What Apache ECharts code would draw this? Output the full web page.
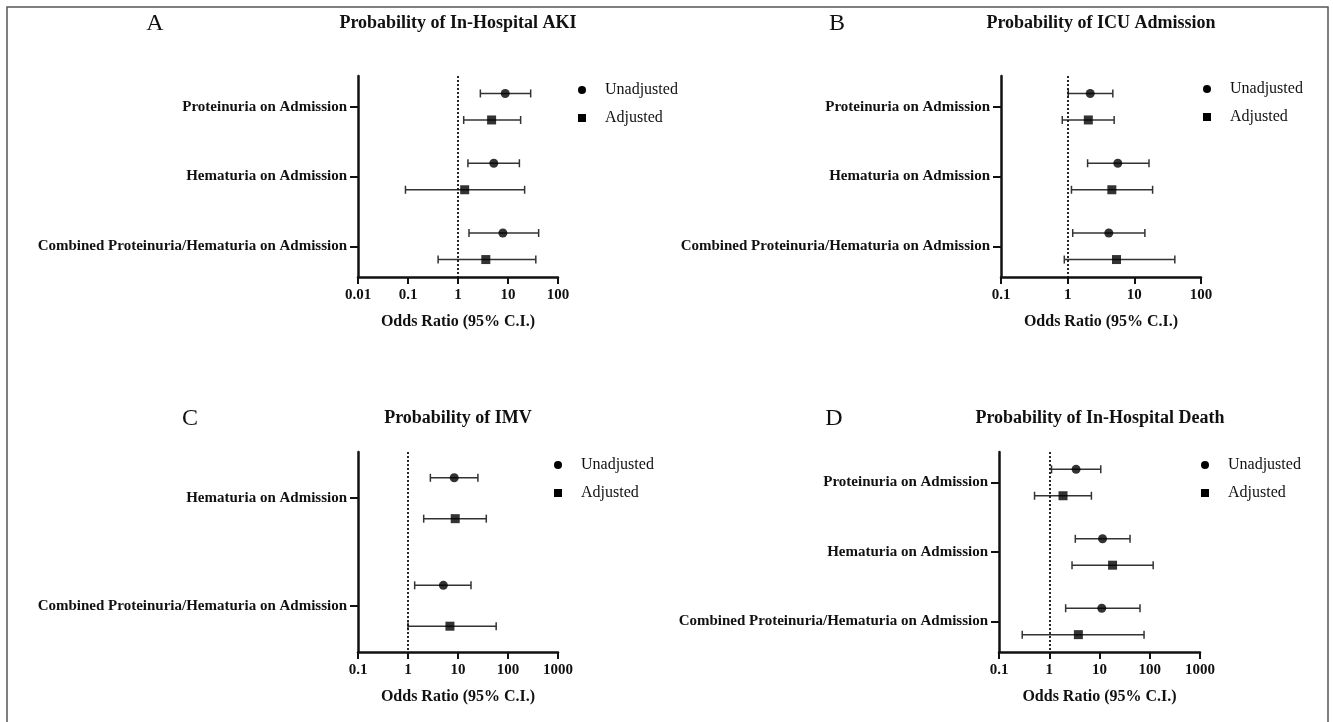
<!DOCTYPE html>
<html>
<head>
<meta charset="utf-8">
<script src="https://cdn.jsdelivr.net/npm/echarts@6/dist/echarts.min.js"></script>
<style>
html,body{margin:0;padding:0;background:#fff;}
#chart{width:1333px;height:722px;}
</style>
</head>
<body>
<div id="chart"></div>
<script>
// ---------- data ----------
const rowsAB = ['Proteinuria on Admission', 'Hematuria on Admission', 'Combined Proteinuria/Hematuria on Admission'];
const rowsC = ['Hematuria on Admission', 'Combined Proteinuria/Hematuria on Admission'];
const rowsD = ['Proteinuria on Admission', 'Hematuria on Admission', 'Combined Proteinuria/Hematuria on Admission'];

const ticksA = [0.01, 0.1, 1, 10, 100];
const ticksB = [0.1, 1, 10, 100];
const ticksC = [0.1, 1, 10, 100, 1000];
const ticksD = [0.1, 1, 10, 100, 1000];

// Panel A: Probability of In-Hospital AKI
const aUnadjOR = [8.8, 5.2, 7.9];
const aUnadjLo = [2.8, 1.58, 1.66];
const aUnadjHi = [28.4, 16.9, 41];
const aAdjOR = [4.7, 1.36, 3.6];
const aAdjLo = [1.3, 0.089, 0.4];
const aAdjHi = [17.9, 21.5, 36];

// Panel B: Probability of ICU Admission
const bUnadjOR = [2.18, 5.65, 4.14];
const bUnadjLo = [1.02, 1.99, 1.19];
const bUnadjHi = [4.76, 16.6, 14.4];
const bAdjOR = [2.04, 4.6, 5.4];
const bAdjLo = [0.83, 1.14, 0.89];
const bAdjHi = [4.98, 18.8, 40.5];

// Panel C: Probability of IMV
const cUnadjOR = [8.4, 5.1];
const cUnadjLo = [2.8, 1.36];
const cUnadjHi = [25, 18.2];
const cAdjOR = [8.8, 6.9];
const cAdjLo = [2.06, 1.0];
const cAdjHi = [36.8, 58];

// Panel D: Probability of In-Hospital Death
const dUnadjOR = [3.42, 11.5, 11.1];
const dUnadjLo = [1.11, 3.3, 2.12];
const dUnadjHi = [10.6, 40.5, 64];
const dAdjOR = [1.88, 18.2, 3.8];
const dAdjLo = [0.51, 2.84, 0.29];
const dAdjHi = [6.9, 117, 77];

const seriesNames = ['Unadjusted', 'Adjusted'];
const panelLetters = ['A', 'B', 'C', 'D'];
const panelTitles = ['Probability of In-Hospital AKI', 'Probability of ICU Admission', 'Probability of IMV', 'Probability of In-Hospital Death'];
const axisTitle = 'Odds Ratio (95% C.I.)';

// ---------- layout / style ----------
const FONT = "'Liberation Serif', 'Times New Roman', serif";
const UNADJ_OFF = -0.19, ADJ_OFF = 0.19;

const panels = [
  {rows: rowsAB, ticks: ticksA, grid: {left: 358, top: 76, width: 200, height: 201}, pad: 0.44,
   u: [aUnadjOR, aUnadjLo, aUnadjHi], a: [aAdjOR, aAdjLo, aAdjHi],
   letter: [155, 24], title: [458, 23], legend: [573, 76]},
  {rows: rowsAB, ticks: ticksB, grid: {left: 1001, top: 76, width: 200, height: 201}, pad: 0.44,
   u: [bUnadjOR, bUnadjLo, bUnadjHi], a: [bAdjOR, bAdjLo, bAdjHi],
   letter: [837, 24], title: [1101, 23], legend: [1198, 75]},
  {rows: rowsC, ticks: ticksC, grid: {left: 358, top: 452, width: 200, height: 200}, pad: 0.43,
   u: [cUnadjOR, cUnadjLo, cUnadjHi], a: [cAdjOR, cAdjLo, cAdjHi],
   letter: [190, 419], title: [458, 418], legend: [549, 451]},
  {rows: rowsD, ticks: ticksD, grid: {left: 999, top: 452, width: 201, height: 200}, pad: 0.44,
   u: [dUnadjOR, dUnadjLo, dUnadjHi], a: [dAdjOR, dAdjLo, dAdjHi],
   letter: [834, 419], title: [1100, 418], legend: [1196, 451]}
];

function errRender(params, api) {
  const y = api.value(2);
  const p1 = api.coord([api.value(0), y]);
  const p2 = api.coord([api.value(1), y]);
  const h = 4;
  const st = {stroke: '#333', lineWidth: 1.5};
  return {
    type: 'group',
    children: [
      {type: 'line', shape: {x1: p1[0], y1: p1[1], x2: p2[0], y2: p2[1]}, style: st},
      {type: 'line', shape: {x1: p1[0], y1: p1[1] - h, x2: p1[0], y2: p1[1] + h}, style: st},
      {type: 'line', shape: {x1: p2[0], y1: p2[1] - h, x2: p2[0], y2: p2[1] + h}, style: st}
    ]
  };
}

const grids = [], xAxes = [], yAxes = [], series = [], legends = [], graphics = [];

graphics.push({type: 'rect', shape: {x: 7, y: 7, width: 1321, height: 740},
  style: {fill: 'none', stroke: '#555', lineWidth: 1.5}, silent: true});

panels.forEach((p, i) => {
  grids.push(p.grid);
  xAxes.push({
    type: 'log', logBase: 10, gridIndex: i,
    min: p.ticks[0], max: p.ticks[p.ticks.length - 1],
    name: axisTitle, nameLocation: 'middle', nameGap: 37,
    nameTextStyle: {fontFamily: FONT, fontWeight: 'bold', fontSize: 16, color: '#111'},
    axisLine: {onZero: false, lineStyle: {color: '#111', width: 2.5}},
    axisTick: {show: true, length: 7, inside: false, lineStyle: {color: '#111', width: 2}},
    axisLabel: {fontFamily: FONT, fontWeight: 'bold', fontSize: 15, color: '#111', margin: 11,
      formatter: v => String(+Number(v).toPrecision(4))},
    splitLine: {show: false}, minorTick: {show: false}
  });
  const n = p.rows.length;
  const idx = p.rows.map((r, k) => k);
  yAxes.push({
    type: 'value', gridIndex: i, inverse: true,
    min: -p.pad, max: n - 1 + p.pad,
    axisLine: {show: true, onZero: false, lineStyle: {color: '#111', width: 2.5}},
    axisTick: {show: true, length: 8, customValues: idx, lineStyle: {color: '#111', width: 2}},
    axisLabel: {show: true, customValues: idx, margin: 11, fontFamily: FONT, fontWeight: 'bold', fontSize: 15, color: '#111',
      formatter: v => p.rows[Math.round(v)] || ''},
    splitLine: {show: false}
  });
  [[p.u, UNADJ_OFF, 'circle', 9, seriesNames[0]], [p.a, ADJ_OFF, 'rect', 9, seriesNames[1]]].forEach((cfg, j) => {
    const [vals, off, sym, size, name] = cfg;
    const errData = vals[0].map((v, k) => [vals[1][k], vals[2][k], k + off]);
    const s = {
      type: 'custom', name: name, xAxisIndex: i, yAxisIndex: i,
      renderItem: errRender, data: errData, encode: {x: [0, 1], y: 2},
      itemStyle: {color: '#000'},
      silent: true, z: 2
    };
    if (j === 0) {
      s.markLine = {
        silent: true, symbol: ['none', 'none'], label: {show: false},
        lineStyle: {type: [2, 2], color: '#111', width: 1.8},
        data: [{xAxis: 1}]
      };
    }
    series.push(s);
    series.push({
      type: 'scatter', name: name, xAxisIndex: i, yAxisIndex: i,
      symbol: sym, symbolSize: size,
      itemStyle: {color: '#000'},
      data: vals[0].map((v, k) => [v, k + off]),
      z: 5, silent: true
    });
  });
  legends.push({
    orient: 'vertical', left: p.legend[0], top: p.legend[1],
    itemWidth: 8, itemHeight: 8, itemGap: 10,
    data: [{name: seriesNames[0], icon: 'circle', itemStyle: {color: '#000'}},
           {name: seriesNames[1], icon: 'rect', itemStyle: {color: '#000'}}],
    textStyle: {fontFamily: FONT, fontSize: 16, color: '#111', padding: [0, 0, 0, 14], lineHeight: 18},
    selectedMode: false
  });
  graphics.push({type: 'text', x: p.letter[0], y: p.letter[1], silent: true,
    style: {text: panelLetters[i], fontFamily: FONT, fontSize: 24, fill: '#111', align: 'center', verticalAlign: 'middle'}});
  graphics.push({type: 'text', x: p.title[0], y: p.title[1], silent: true,
    style: {text: panelTitles[i], fontFamily: FONT, fontSize: 18, fontWeight: 'bold', fill: '#111', align: 'center', verticalAlign: 'middle'}});
});

const chart = echarts.init(document.getElementById('chart'), null, {renderer: 'canvas'});
chart.setOption({
  backgroundColor: '#fff',
  animation: false,
  color: ['#000'],
  grid: grids, xAxis: xAxes, yAxis: yAxes, series: series, legend: legends,
  graphic: graphics
});
</script>
</body>
</html>
